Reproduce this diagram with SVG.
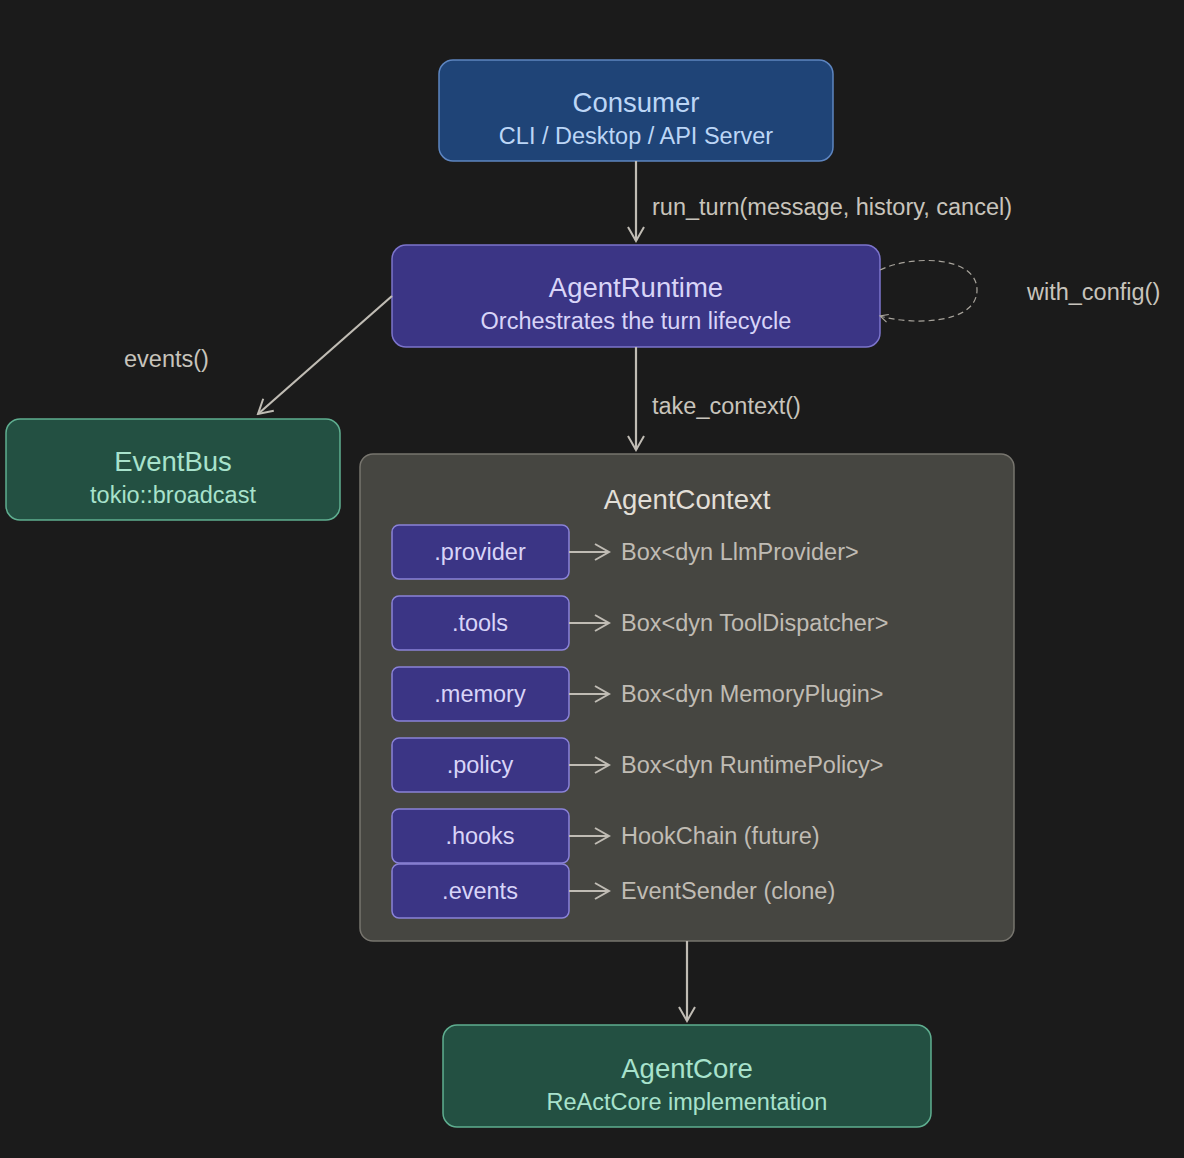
<svg xmlns="http://www.w3.org/2000/svg" width="1184" height="1158" viewBox="0 0 1184 1158">
<defs>
<marker id="ah" viewBox="0 0 20 20" refX="18" refY="10" markerWidth="20" markerHeight="20" markerUnits="userSpaceOnUse" orient="auto">
<path d="M4,2 L18,10 L4,18" fill="none" stroke="#c0bcb4" stroke-width="2"/>
</marker>
<marker id="ahs" viewBox="0 0 12 12" refX="11" refY="6" markerWidth="12" markerHeight="12" markerUnits="userSpaceOnUse" orient="auto">
<path d="M3,2 L11,6 L3,10" fill="none" stroke="#a8a49c" stroke-width="1.2"/>
</marker>
<style>
text{font-family:"Liberation Sans",Arial,sans-serif;text-anchor:middle}
.edge{stroke:#c0bcb4;stroke-width:2.2;fill:none}
.lbl{fill:#c8c4bc;font-size:23.5px;text-anchor:start}
.blue rect{fill:#1f4477;stroke:#5d85c0;stroke-width:1.5}
.blue text{fill:#bcd6f6}
.purple rect{fill:#3b3585;stroke:#7c74cc;stroke-width:1.5}
.purple text{fill:#d8d4f8}
.green rect{fill:#235042;stroke:#5fae90;stroke-width:1.5}
.green text{fill:#a8e2cc}
.t{font-size:27.5px}
.s{font-size:23.5px}
.field rect{fill:#3b3585;stroke:#8a82d8;stroke-width:1.5}
.field text{fill:#d8d4f8;font-size:23.5px}
.ftype{fill:#c0bcb4;font-size:23.5px;text-anchor:start}
</style>
</defs>
<rect width="1184" height="1158" fill="#1b1b1b"/>

<g id="AgentContext">
<rect x="360" y="454" width="654" height="487" rx="13" fill="#464641" stroke="#77756e" stroke-width="1.5"/>
<text x="687" y="509" font-size="27.5" fill="#e2dfd7">AgentContext</text>
</g>

<g id="Consumer" class="blue">
<rect x="439" y="60" width="394" height="101" rx="14"/>
<text class="t" x="636" y="112">Consumer</text>
<text class="s" x="636" y="144">CLI / Desktop / API Server</text>
</g>

<g id="AgentRuntime" class="purple">
<rect x="392" y="245" width="488" height="102" rx="14"/>
<text class="t" x="636" y="297">AgentRuntime</text>
<text class="s" x="636" y="329">Orchestrates the turn lifecycle</text>
</g>

<g id="EventBus" class="green">
<rect x="6" y="419" width="334" height="101" rx="14"/>
<text class="t" x="173" y="471">EventBus</text>
<text class="s" x="173" y="503">tokio::broadcast</text>
</g>

<g id="AgentCore" class="green">
<rect x="443" y="1025" width="488" height="102" rx="14"/>
<text class="t" x="687" y="1078">AgentCore</text>
<text class="s" x="687" y="1110">ReActCore implementation</text>
</g>

<g id="fields">
<g id="f_provider" class="field"><rect x="392" y="525" width="177" height="54" rx="7"/><text x="480" y="560">.provider</text></g>
<g id="f_tools" class="field"><rect x="392" y="596" width="177" height="54" rx="7"/><text x="480" y="631">.tools</text></g>
<g id="f_memory" class="field"><rect x="392" y="667" width="177" height="54" rx="7"/><text x="480" y="702">.memory</text></g>
<g id="f_policy" class="field"><rect x="392" y="738" width="177" height="54" rx="7"/><text x="480" y="773">.policy</text></g>
<g id="f_hooks" class="field"><rect x="392" y="809" width="177" height="54" rx="7"/><text x="480" y="844">.hooks</text></g>
<g id="f_events" class="field"><rect x="392" y="864" width="177" height="54" rx="7"/><text x="480" y="899">.events</text></g>
</g>

<g id="types">
<text class="ftype" x="621" y="560">Box&lt;dyn LlmProvider&gt;</text>
<text class="ftype" x="621" y="631">Box&lt;dyn ToolDispatcher&gt;</text>
<text class="ftype" x="621" y="702">Box&lt;dyn MemoryPlugin&gt;</text>
<text class="ftype" x="621" y="773">Box&lt;dyn RuntimePolicy&gt;</text>
<text class="ftype" x="621" y="844">HookChain (future)</text>
<text class="ftype" x="621" y="899">EventSender (clone)</text>
</g>

<g id="connectors">
<line class="edge" x1="636" y1="161" x2="636" y2="241" marker-end="url(#ah)"/>
<text class="lbl" x="652" y="215">run_turn(message, history, cancel)</text>
<line class="edge" x1="392" y1="296" x2="258" y2="414" marker-end="url(#ah)"/>
<text class="lbl" x="124" y="367">events()</text>
<line class="edge" x1="636" y1="347" x2="636" y2="450" marker-end="url(#ah)"/>
<text class="lbl" x="652" y="414">take_context()</text>
<path d="M880,270 C910,255 977,255 977,290 C977,325 910,325 880,316" fill="none" stroke="#a8a49c" stroke-width="1.2" stroke-dasharray="6,4" marker-end="url(#ahs)"/>
<text class="lbl" x="1027" y="300">with_config()</text>
<line class="edge" x1="687" y1="941" x2="687" y2="1021" marker-end="url(#ah)"/>
<line class="edge" x1="569" y1="552" x2="609" y2="552" marker-end="url(#ah)"/>
<line class="edge" x1="569" y1="623" x2="609" y2="623" marker-end="url(#ah)"/>
<line class="edge" x1="569" y1="694" x2="609" y2="694" marker-end="url(#ah)"/>
<line class="edge" x1="569" y1="765" x2="609" y2="765" marker-end="url(#ah)"/>
<line class="edge" x1="569" y1="836" x2="609" y2="836" marker-end="url(#ah)"/>
<line class="edge" x1="569" y1="891" x2="609" y2="891" marker-end="url(#ah)"/>
</g>
</svg>
